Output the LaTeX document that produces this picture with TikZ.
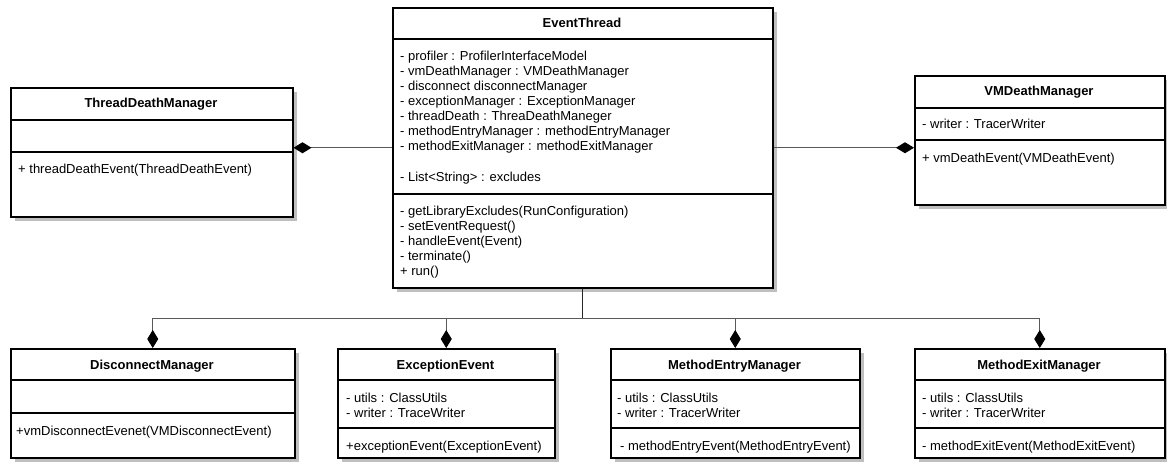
\documentclass[tikz,border=0pt]{standalone}
\usepackage{fontspec}
\setmainfont{Liberation Sans}
\usetikzlibrary{arrows.meta,shadows}

\begin{document}
\begin{tikzpicture}[x=1pt,y=-1pt,
% common options for the class boxes:
classbox/.style = {draw, line width=1.5pt, fill=white, anchor=north west, inner sep=0,
            drop shadow={shadow xshift=4pt, shadow yshift=-4pt, fill=black!25, opacity=1}},
% lines between the compartments:
sep/.style = {line width=1.5pt},
% class names and members:
cname/.style = {font=\bfseries\fontsize{13}{15}\selectfont, anchor=base, inner sep=0},
member/.style = {font=\fontsize{13}{15}\selectfont, anchor=base west, inner sep=0},
% composition connectors:
comp/.style = {draw=black!65, line width=1pt, -{Diamond[length=18pt,width=11pt,color=black]}}]
\useasboundingbox (0,0) rectangle (1167,461);

% EventThread
\node[classbox, minimum width=380pt, minimum height=280pt] (ET) at (392,7) {};
\draw[sep] (ET.west |- 0,39) -- (ET.east |- 0,39);
\draw[sep] (ET.west |- 0,194) -- (ET.east |- 0,194);
\node[cname] (ETname) at (582,27) {EventThread};
\foreach \txt [count=\i] in {- profiler : ProfilerInterfaceModel,
    - vmDeathManager : VMDeathManager, - disconnect disconnectManager,
    - exceptionManager : ExceptionManager, - threadDeath : ThreaDeathManeger,
    - methodEntryManager : methodEntryManager, - methodExitManager : methodExitManager}
  \node[member] (ETa\i) at (400,45+15*\i) {\txt};
\node[member] (ETa8) at (400,181) {- List<String> : excludes};
\foreach \txt [count=\i] in {- getLibraryExcludes(RunConfiguration), - setEventRequest(),
    - handleEvent(Event), - terminate(), + run()}
  \node[member] (ETm\i) at (400,200+15*\i) {\txt};

% ThreadDeathManager
\node[classbox, minimum width=282pt, minimum height=129pt] (TDM) at (10,87) {};
\draw[sep] (TDM.west |- 0,120) -- (TDM.east |- 0,120);
\draw[sep] (TDM.west |- 0,152) -- (TDM.east |- 0,152);
\node[cname] (TDMname) at (151,107) {ThreadDeathManager};
\node[member] (TDMm1) at (18,173) {+ threadDeathEvent(ThreadDeathEvent)};

% VMDeathManager
\node[classbox, minimum width=250pt, minimum height=129pt] (VMD) at (914,75) {};
\draw[sep] (VMD.west |- 0,108) -- (VMD.east |- 0,108);
\draw[sep] (VMD.west |- 0,140) -- (VMD.east |- 0,140);
\node[cname] (VMDname) at (1039,95) {VMDeathManager};
\node[member] (VMDa1) at (922,128) {- writer : TracerWriter};
\node[member] (VMDm1) at (922,162) {+ vmDeathEvent(VMDeathEvent)};

% DisconnectManager
\node[classbox, minimum width=284pt, minimum height=109pt] (DM) at (10,348) {};
\draw[sep] (DM.west |- 0,380) -- (DM.east |- 0,380);
\draw[sep] (DM.west |- 0,413) -- (DM.east |- 0,413);
\node[cname] (DMname) at (152,369) {DisconnectManager};
\node[member] (DMm1) at (16,435) {+vmDisconnectEvenet(VMDisconnectEvent)};

% ExceptionEvent
\node[classbox, minimum width=217pt, minimum height=109pt] (EE) at (337,348) {};
\draw[sep] (EE.west |- 0,380) -- (EE.east |- 0,380);
\draw[sep] (EE.west |- 0,428) -- (EE.east |- 0,428);
\node[cname] (EEname) at (445.5,369) {ExceptionEvent};
\node[member] (EEa1) at (346,402) {- utils : ClassUtils};
\node[member] (EEa2) at (346,417) {- writer : TraceWriter};
\node[member] (EEm1) at (346,450) {+exceptionEvent(ExceptionEvent)};

% MethodEntryManager
\node[classbox, minimum width=249pt, minimum height=109pt] (MEn) at (610,348) {};
\draw[sep] (MEn.west |- 0,380) -- (MEn.east |- 0,380);
\draw[sep] (MEn.west |- 0,428) -- (MEn.east |- 0,428);
\node[cname] (MEnname) at (734.5,369) {MethodEntryManager};
\node[member] (MEna1) at (617,402) {- utils : ClassUtils};
\node[member] (MEna2) at (617,417) {- writer : TracerWriter};
\node[member] (MEnm1) at (620,450) {- methodEntryEvent(MethodEntryEvent)};

% MethodExitManager
\node[classbox, minimum width=250pt, minimum height=109pt] (MEx) at (914,348) {};
\draw[sep] (MEx.west |- 0,380) -- (MEx.east |- 0,380);
\draw[sep] (MEx.west |- 0,428) -- (MEx.east |- 0,428);
\node[cname] (MExname) at (1039,369) {MethodExitManager};
\node[member] (MExa1) at (922,402) {- utils : ClassUtils};
\node[member] (MExa2) at (922,417) {- writer : TracerWriter};
\node[member] (MExm1) at (922,450) {- methodExitEvent(MethodExitEvent)};

% compositions
\draw[comp] (ET.west) -- (ET.west -| TDM.east);
\draw[comp] (ET.east) -- (ET.east -| VMD.west);
\draw[black!85, line width=1pt] (ET.south) -- ++(0,30) coordinate (bus);
\foreach \c in {DM,EE,MEn,MEx}
  \draw[comp] (bus) -| (\c.north);
\end{tikzpicture}
\end{document}
